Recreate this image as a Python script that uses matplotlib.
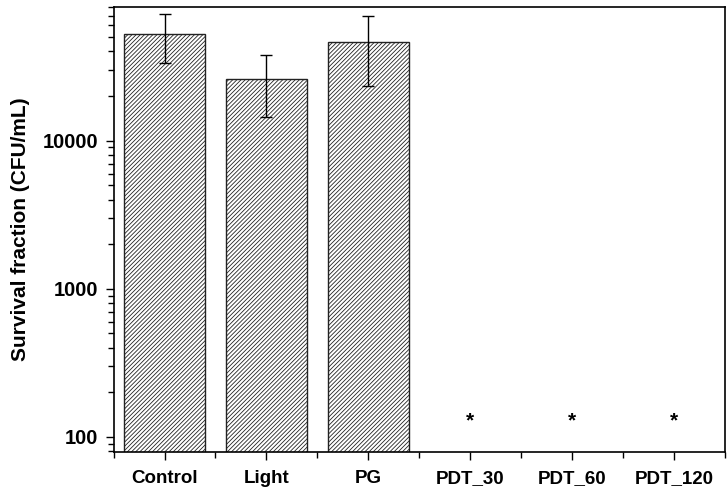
import numpy as np
import matplotlib
matplotlib.use("Agg")
import matplotlib.pyplot as plt
from matplotlib.ticker import LogLocator, FixedLocator, NullFormatter

plt.rcParams['font.family'] = ['Liberation Sans', 'DejaVu Sans']
plt.rcParams['font.weight'] = 'bold'
plt.rcParams['hatch.color'] = '#555555'
plt.rcParams['hatch.linewidth'] = 0.6

# data
groups = ['Control', 'Light', 'PG', 'PDT_30', 'PDT_60', 'PDT_120']
means = [52300, 26150, 46400]
errors = [19000, 11600, 23000]
star_groups = ['PDT_30', 'PDT_60', 'PDT_120']
star_level = 128

x = np.arange(len(groups))

fig = plt.figure(figsize=(7.28, 4.94), dpi=100)
ax = fig.add_axes([0.156, 0.085, 0.840, 0.901])

ax.bar(x[:len(means)], means, width=0.8, bottom=1e-3, color='white',
       edgecolor='#222222', linewidth=1.0, hatch='////////')
ax.errorbar(x[:len(means)], means, yerr=errors, fmt='none', ecolor='black',
            elinewidth=1.0, capsize=4, capthick=1.0)

for g in star_groups:
    ax.text(groups.index(g), star_level, '*', ha='center', va='center',
            fontsize=15, fontweight='bold')

ax.set_yscale('log')
ax.set_ylim(79, 80000)
ax.set_xlim(-0.5, len(groups) - 0.5)

ax.set_xticks(x)
ax.set_xticklabels(groups, fontsize=13.5, fontweight='bold')
ax.xaxis.set_minor_locator(FixedLocator(np.arange(-0.5, len(groups), 1.0)))

ax.yaxis.set_major_locator(FixedLocator([100, 1000, 10000]))
ax.set_yticklabels(['100', '1000', '10000'], fontsize=14.5, fontweight='bold')
ax.yaxis.set_minor_locator(LogLocator(base=10, subs=np.arange(2, 10)))
ax.yaxis.set_minor_formatter(NullFormatter())

ax.tick_params(which='major', direction='out', length=6, width=1.0)
ax.tick_params(which='minor', direction='out', length=4, width=1.0)
ax.tick_params(axis='x', which='major', pad=7)
ax.tick_params(axis='y', which='major', pad=5)

for s in ax.spines.values():
    s.set_linewidth(1.2)

ax.set_ylabel('Survival fraction (CFU/mL)', fontsize=15, fontweight='bold',
              labelpad=9)

fig.savefig('out.png', dpi=100)
